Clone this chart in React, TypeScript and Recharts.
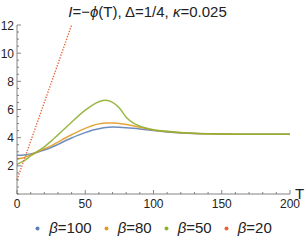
import React from 'react';
import { LineChart, Line, XAxis, YAxis, Label } from 'recharts';

// T grid and curves
const tValues = [0, 5, 10, 15, 20, 25, 30, 35, 40, 45, 50, 55, 60, 65, 70, 75, 80, 85, 90, 95, 100, 110, 120, 130, 140, 150, 160, 170, 180, 190, 200];
const beta100 = [2.75, 2.77, 2.85, 2.97, 3.12, 3.3, 3.52, 3.76, 3.98, 4.18, 4.36, 4.52, 4.64, 4.72, 4.75, 4.74, 4.71, 4.67, 4.62, 4.56, 4.5, 4.4, 4.33, 4.29, 4.27, 4.26, 4.25, 4.25, 4.25, 4.25, 4.25];
const beta80 = [2.5, 2.58, 2.78, 3.0, 3.2, 3.42, 3.68, 3.96, 4.21, 4.45, 4.66, 4.85, 4.98, 5.05, 5.05, 5.0, 4.93, 4.84, 4.74, 4.64, 4.55, 4.43, 4.35, 4.3, 4.27, 4.26, 4.25, 4.25, 4.25, 4.25, 4.25];
const beta50 = [2.1, 2.35, 2.7, 3.02, 3.35, 3.75, 4.2, 4.65, 5.1, 5.55, 5.95, 6.3, 6.55, 6.65, 6.5, 6.1, 5.45, 5.05, 4.82, 4.67, 4.57, 4.45, 4.36, 4.31, 4.28, 4.26, 4.25, 4.25, 4.25, 4.25, 4.25];
const beta20 = [1.0, 2.37, 3.75, 5.12, 6.5, 7.87, 9.25, 10.62, 12.0];

const xTicks = [0, 10, 20, 30, 40, 50, 60, 70, 80, 90, 100, 110, 120, 130, 140, 150, 160, 170, 180, 190, 200];
const xMajor = [0, 50, 100, 150, 200];
const yTicks = [0, 0.5, 1, 1.5, 2, 2.5, 3, 3.5, 4, 4.5, 5, 5.5, 6, 6.5, 7, 7.5, 8, 8.5, 9, 9.5, 10, 10.5, 11, 11.5, 12];
const yMajor = [2, 4, 6, 8, 10, 12];

const series = [
  { key: 'b100', name: '100', color: '#5E81B5' },
  { key: 'b80', name: '80', color: '#E19C24' },
  { key: 'b50', name: '50', color: '#8FB032' },
  { key: 'b20', name: '20', color: '#EB6235' },
];

const data = tValues.map((t, i) => ({
  t,
  b100: beta100[i],
  b80: beta80[i],
  b50: beta50[i],
  b20: i < beta20.length ? beta20[i] : undefined,
}));

const FONT = '"Liberation Sans", Arial, sans-serif';
const AXIS = '#666';

const XTick = (props: any) => {
  const { x, y, payload } = props;
  const major = xMajor.includes(payload.value);
  return (
    <g>
      <line x1={x} x2={x} y1={y} y2={y - (major ? 4 : 2)} stroke={AXIS} strokeWidth={0.8} />
      {major && (
        <text x={x} y={y + 14} textAnchor="middle" fontSize={12} fontFamily={FONT} fill="#222">
          {payload.value}
        </text>
      )}
    </g>
  );
};

const YTick = (props: any) => {
  const { x, y, payload } = props;
  const major = yMajor.includes(payload.value);
  return (
    <g>
      <line x1={x} x2={x + (major ? 4 : 2)} y1={y} y2={y} stroke={AXIS} strokeWidth={0.8} />
      {major && (
        <text x={x - 3} y={y + 4.5} textAnchor="end" fontSize={12} fontFamily={FONT} fill="#222">
          {payload.value}
        </text>
      )}
    </g>
  );
};

const LegendRow = () => (
  <div
    style={{
      position: 'absolute',
      top: 218,
      left: 0,
      width: 307,
      height: 20,
      lineHeight: '20px',
      display: 'flex',
      justifyContent: 'center',
      alignItems: 'center',
      fontFamily: FONT,
      fontSize: 15,
      color: '#222',
    }}
  >
    {series.map((s) => (
      <span key={s.key} style={{ display: 'flex', alignItems: 'center', margin: '0 6px' }}>
        <svg width={5} height={5} style={{ marginRight: 9 }}>
          <circle cx={2.5} cy={2.5} r={2} fill={s.color} />
        </svg>
        <span>
          <i>β</i>={s.name}
        </span>
      </span>
    ))}
  </div>
);

export default function App() {
  return (
    <div style={{ position: 'absolute', left: 0, top: 0, width: 307, height: 242, background: '#fff' }}>
      <div
        style={{
          position: 'absolute',
          top: 4,
          left: 0,
          width: 295,
          textAlign: 'center',
          fontFamily: FONT,
          fontSize: 15,
          lineHeight: '15px',
          color: '#222',
        }}
      >
        <i>I</i>=−<i>ϕ</i>(T), Δ=1/4, <i>κ</i>=0.025
      </div>
      <LineChart width={307} height={242} data={data} margin={{ top: 25, right: 17, bottom: 20, left: 0 }}>
        <XAxis
          type="number"
          dataKey="t"
          domain={[0, 200]}
          ticks={xTicks}
          interval={0}
          height={28}
          tickSize={0}
          tickMargin={0}
          tick={<XTick />}
          axisLine={{ stroke: AXIS, strokeWidth: 0.8 }}
        >
          <Label
            value="T"
            position="insideTopRight"
            offset={0}
            content={(p: any) => (
              <text x={p.viewBox.x + p.viewBox.width + 5} y={p.viewBox.y + 5} fontSize={15} fontFamily={FONT} fill="#222">
                T
              </text>
            )}
          />
        </XAxis>
        <YAxis
          type="number"
          domain={[0, 12]}
          ticks={yTicks}
          interval={0}
          width={17}
          tickSize={0}
          tickMargin={0}
          tick={<YTick />}
          allowDataOverflow
          axisLine={{ stroke: AXIS, strokeWidth: 0.8 }}
        />
        {series.slice(0, 3).map((s) => (
          <Line
            key={s.key}
            dataKey={s.key}
            type="monotone"
            stroke={s.color}
            strokeWidth={1.5}
            strokeOpacity={0.9}
            dot={false}
            isAnimationActive={false}
          />
        ))}
        <Line
          dataKey="b20"
          type="linear"
          stroke="#EB6235"
          strokeWidth={1.4}
          strokeDasharray="1.3 1.5"
          dot={false}
          connectNulls={false}
          isAnimationActive={false}
        />
      </LineChart>
      <LegendRow />
    </div>
  );
}
